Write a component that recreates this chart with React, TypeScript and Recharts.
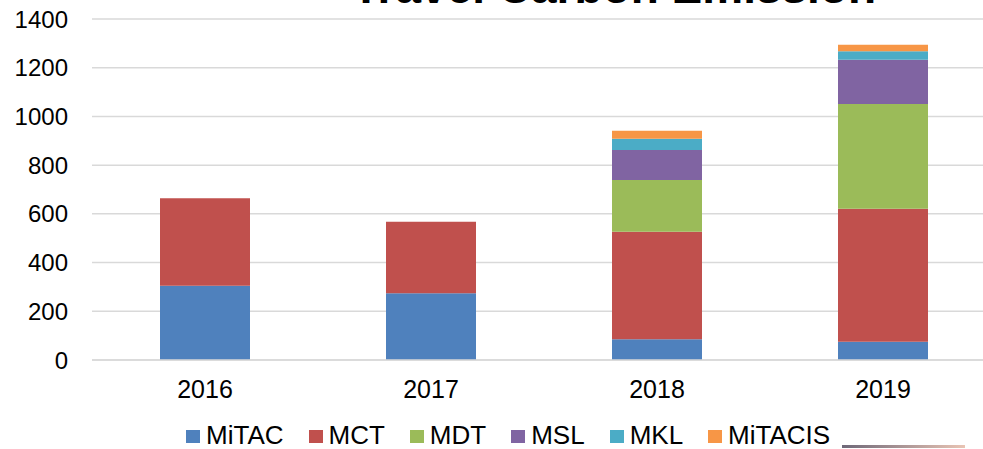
import { Bar, BarChart, CartesianGrid, XAxis, YAxis } from 'recharts';

const years = ['2016', '2017', '2018', '2019'];
const mitac = [305, 274, 85, 75];
const mct = [359, 294, 442, 546];
const mdt = [0, 0, 212, 430];
const msl = [0, 0, 123, 182];
const mkl = [0, 0, 46, 35];
const mitacis = [0, 0, 33, 26];
const yTicks = [0, 200, 400, 600, 800, 1000, 1200, 1400];

const series = [
  { key: 'MiTAC', values: mitac, color: '#4F81BD' },
  { key: 'MCT', values: mct, color: '#C0504D' },
  { key: 'MDT', values: mdt, color: '#9BBB59' },
  { key: 'MSL', values: msl, color: '#8064A2' },
  { key: 'MKL', values: mkl, color: '#4BACC6' },
  { key: 'MiTACIS', values: mitacis, color: '#F79646' },
];

const data = years.map((year, i) => {
  const row: Record<string, string | number> = { year };
  series.forEach((s) => {
    row[s.key] = s.values[i];
  });
  return row;
});

const font = '"Liberation Sans", Arial, sans-serif';

export default function App() {
  return (
    <div
      style={{
        position: 'absolute',
        left: 0,
        top: 0,
        width: 983,
        height: 449,
        overflow: 'hidden',
        background: '#fff',
        fontFamily: font,
      }}
    >
      <BarChart
        width={1000}
        height={449}
        data={data}
        margin={{ top: 19, right: 4, left: 0, bottom: 49 }}
      >
        <CartesianGrid stroke="#d9d9d9" strokeWidth={1.5} vertical={false} />
        <XAxis
          dataKey="year"
          height={40}
          tickLine={false}
          axisLine={{ stroke: '#d9d9d9', strokeWidth: 1.5 }}
          tick={{ fill: '#000', fontSize: 25, fontFamily: font }}
          tickMargin={14}
        />
        <YAxis
          width={92}
          domain={[0, 1400]}
          ticks={yTicks}
          tickLine={false}
          axisLine={false}
          tick={{ fill: '#000', fontSize: 24, fontFamily: font }}
          tickMargin={18}
        />
        {series.map((s) => (
          <Bar
            key={s.key}
            dataKey={s.key}
            stackId="a"
            fill={s.color}
            barSize={90}
            isAnimationActive={false}
          />
        ))}
      </BarChart>

      {/* title sits mostly above the top edge, as in the source image */}
      <div
        style={{
          position: 'absolute',
          left: 352,
          top: -36,
          fontSize: 46,
          lineHeight: '46px',
          fontWeight: 'bold',
          whiteSpace: 'nowrap',
          color: '#000',
        }}
      >
        Travel Carbon Emission
      </div>

      <div
        style={{
          position: 'absolute',
          left: 186,
          top: 420,
          display: 'flex',
          alignItems: 'center',
          gap: 25,
          fontSize: 26,
          lineHeight: '30px',
          color: '#000',
          whiteSpace: 'nowrap',
        }}
      >
        {series.map((s) => (
          <div key={s.key} style={{ display: 'flex', alignItems: 'center', gap: 6 }}>
            <span style={{ display: 'inline-block', width: 14, height: 13, background: s.color, marginTop: 3 }} />
            <span>{s.key}</span>
          </div>
        ))}
      </div>
      <div
        style={{
          position: 'absolute',
          left: 842,
          top: 445,
          width: 123,
          height: 3,
          background: 'linear-gradient(to right, #6e6878, #e9c4b4)',
        }}
      />
    </div>
  );
}
